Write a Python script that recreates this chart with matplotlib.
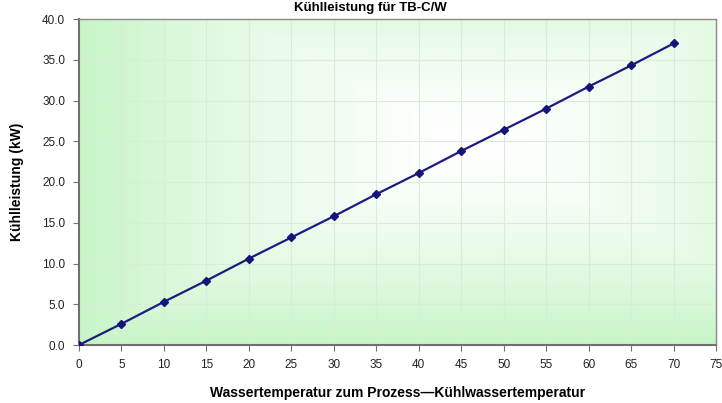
import numpy as np
import matplotlib
matplotlib.use("Agg")
import matplotlib.pyplot as plt
from matplotlib.colors import LinearSegmentedColormap

temps = [0, 5, 10, 15, 20, 25, 30, 35, 40, 45, 50, 55, 60, 65, 70]
power = [0.0, 2.6, 5.3, 7.9, 10.6, 13.2, 15.8, 18.5, 21.1, 23.8, 26.4, 29.0, 31.7, 34.3, 37.0]
xticks = list(range(0, 80, 5))
yticks = [0, 5, 10, 15, 20, 25, 30, 35, 40]

title = "Kühlleistung für TB-C/W"
xlabel = "Wassertemperatur zum Prozess\u2014Kühlwassertemperatur"
ylabel = "Kühlleistung (kW)"

plt.rcParams['font.family'] = ['Liberation Sans', 'DejaVu Sans']

fig = plt.figure(figsize=(7.22, 4.03), dpi=100)
ax = fig.add_axes([79/722, 1-345/403, (716-79)/722, (345-19)/403])

# gradient background (from center to green edges)
nx, ny = 400, 200
gx, gy = np.meshgrid(np.linspace(0, 1, nx), np.linspace(0, 1, ny))
cx, cy = 0.62, 0.62
d = np.maximum(np.abs(gx - cx) / 0.62, np.abs(gy - cy) / 0.62)
d = np.clip(d, 0, 1) ** 1.4
cmap = LinearSegmentedColormap.from_list("g", ["#ffffff", "#c8f5c8"])
ax.imshow(d, cmap=cmap, extent=[0, 1, 0, 1], transform=ax.transAxes,
          origin="lower", aspect="auto", zorder=0, vmin=0, vmax=1)

ax.plot(temps, power, color="#1c1c80", lw=1.6, marker="D", ms=4.5,
        markerfacecolor="#14147a", markeredgecolor="#14147a", zorder=3)

ax.set_xlim(0, 75)
ax.set_ylim(0, 40)
ax.set_xticks(xticks)
ax.set_yticks(yticks)
ax.set_yticklabels([f"{v:.1f}" for v in yticks])
ax.grid(True, color="#d8ecd8", lw=0.8, zorder=1)
ax.set_axisbelow(True)

for s in ["left", "bottom"]:
    ax.spines[s].set_color("#707070")
    ax.spines[s].set_linewidth(1.5)
for s in ["top", "right"]:
    ax.spines[s].set_color("#8a8a8a")
    ax.spines[s].set_linewidth(1.0)

ax.tick_params(direction="out", length=4, color="#707070", labelsize=8.5,
               labelcolor="#222222", pad=6)

ax.set_xlabel(xlabel, fontsize=10, fontweight="bold", labelpad=11)
ax.set_ylabel(ylabel, fontsize=10, fontweight="bold", labelpad=13)
fig.text(370/722, 1 - 8/403, title, ha="center", va="center",
         fontsize=9.5, fontweight="bold")

fig.savefig("out.png", dpi=100)
